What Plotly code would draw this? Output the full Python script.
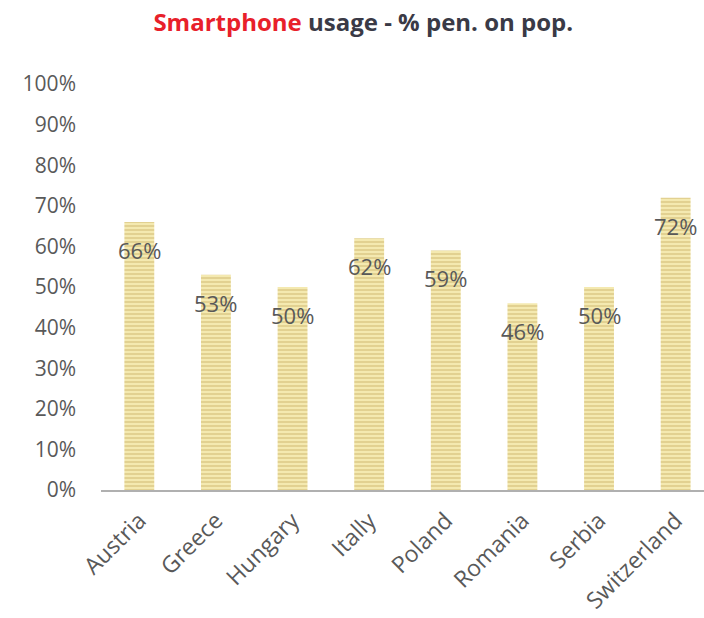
import plotly.graph_objects as go

countries = ["Austria", "Greece", "Hungary", "Itally", "Poland", "Romania", "Serbia", "Switzerland"]
penetration = [66, 53, 50, 62, 59, 46, 50, 72]
y_ticks = list(range(0, 101, 10))
y_tick_labels = [f"{v}%" for v in y_ticks]

label_font = "'Open Sans', sans-serif"
grey = "#595959"

fig = go.Figure()
fig.add_trace(go.Bar(
    x=list(range(len(countries))),
    y=penetration,
    width=0.39,
    marker=dict(
        color="#f4e9b0",
        line=dict(width=0),
        pattern=dict(shape="-", fgcolor="#cfba72", bgcolor="#f4e9b0",
                     size=4, solidity=0.5, fillmode="overlay"),
    ),
    hoverinfo="skip",
))

# value labels sit just below each bar's top
for i, v in enumerate(penetration):
    fig.add_annotation(
        x=i, y=v, xref="x", yref="y",
        text=f"{v}%", showarrow=False, yshift=-28,
        font=dict(family=label_font, size=22, color=grey),
    )

fig.update_layout(
    width=704, height=618,
    margin=dict(l=101, r=0, t=84, b=128),
    paper_bgcolor="white", plot_bgcolor="white",
    showlegend=False,
    title=dict(
        text="<span style='color:#e8202a'>Smartphone</span> usage - % pen. on pop.",
        x=0.516, xanchor="center", y=0.964, yanchor="middle",
        font=dict(family=label_font, size=24, color="#3a3a46", weight="bold"),
    ),
    xaxis=dict(
        range=[-0.5, 7.37],
        tickmode="array",
        tickvals=list(range(len(countries))),
        ticktext=countries,
        tickangle=-45,
        tickfont=dict(family=label_font, size=23, color=grey),
        showgrid=False, zeroline=False,
        showline=True, linecolor="#b0b0b0", linewidth=2,
        ticks="", ticklabelstandoff=6,
    ),
    yaxis=dict(
        range=[0, 100],
        tickmode="array",
        tickvals=y_ticks,
        ticktext=y_tick_labels,
        tickfont=dict(family=label_font, size=21, color=grey),
        showgrid=False, zeroline=False, showline=False,
        ticks="", ticklabelstandoff=24,
    ),
)

fig.write_html("out.html")
